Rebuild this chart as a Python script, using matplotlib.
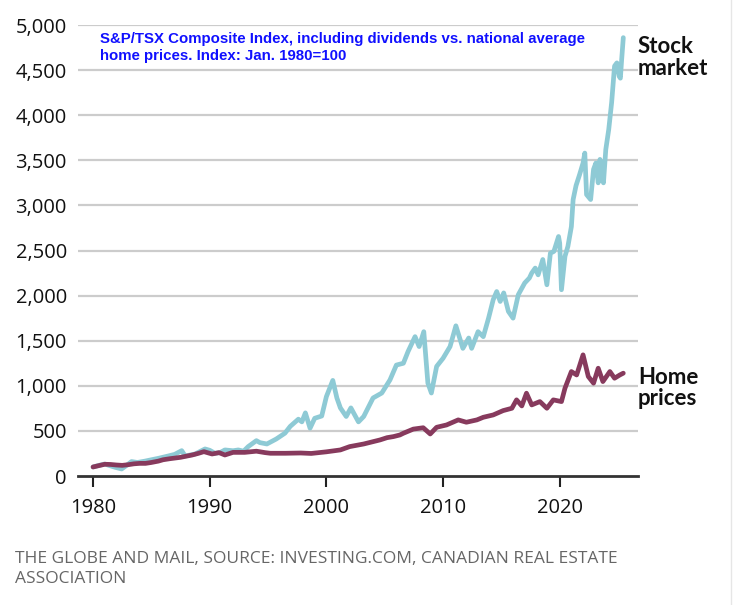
import matplotlib.pyplot as plt
from matplotlib.lines import Line2D

# values (index, Jan. 1980 = 100)
stock_years = [1980.0, 1980.5, 1981.0, 1981.5, 1981.9, 1982.45, 1982.9, 1983.3, 1983.8, 1984.45,
               1985.0, 1985.6, 1986.45, 1987.0, 1987.6, 1987.9, 1988.75, 1989.6, 1990.0, 1990.45,
               1990.9, 1991.3, 1992.0, 1992.45, 1992.9, 1993.3, 1994.0, 1994.3, 1994.9, 1995.7,
               1996.45, 1996.9, 1997.6, 1997.9, 1998.2, 1998.6, 1999.0, 1999.6, 2000.0, 2000.55,
               2000.9, 2001.2, 2001.7, 2002.1, 2002.75, 2003.2, 2004.0, 2004.75, 2005.45, 2006.0,
               2006.6, 2007.0, 2007.6, 2007.95, 2008.35, 2008.7, 2009.0, 2009.45, 2010.0, 2010.6,
               2011.1, 2011.7, 2012.2, 2012.45, 2013.0, 2013.45, 2013.9, 2014.3, 2014.6, 2014.9,
               2015.2, 2015.6, 2016.0, 2016.45, 2017.0, 2017.4, 2017.6, 2017.9, 2018.15, 2018.55,
               2018.9, 2019.2, 2019.5, 2019.9, 2020.0, 2020.15, 2020.45, 2020.7, 2021.0, 2021.15,
               2021.4, 2021.7, 2022.0, 2022.15, 2022.3, 2022.65, 2022.9, 2023.1, 2023.3, 2023.45,
               2023.6, 2023.75, 2023.95, 2024.2, 2024.45, 2024.7, 2024.9, 2025.1, 2025.2, 2025.3,
               2025.45]
stock_vals = [100, 118, 133, 112, 96, 78, 120, 160, 150, 165,
              180, 196, 222, 240, 281, 222, 244, 300, 285, 252,
              260, 289, 280, 289, 275, 326, 392, 370, 355, 410,
              475, 550, 630, 600, 700, 530, 640, 665, 880, 1060,
              865, 755, 660, 755, 600, 660, 865, 920, 1065, 1230,
              1250, 1380, 1545, 1435, 1600, 1030, 920, 1215, 1305, 1435,
              1665, 1415, 1530, 1415, 1600, 1545, 1750, 1955, 2045, 1935,
              2030, 1825, 1750, 2010, 2140, 2195, 2250, 2305, 2230, 2400,
              2120, 2470, 2490, 2655, 2580, 2065, 2435, 2545, 2765, 3065,
              3220, 3340, 3470, 3580, 3120, 3065, 3400, 3470, 3250, 3510,
              3320, 3250, 3620, 3840, 4140, 4545, 4580, 4430, 4410, 4600,
              4860]

home_years = [1980.0, 1980.5, 1981.0, 1981.5, 1982.0, 1982.5, 1983.0, 1983.5, 1984.0, 1984.5,
              1985.0, 1985.6, 1986.0, 1986.6, 1987.5, 1988.5, 1989.0, 1989.5, 1990.2, 1990.8,
              1991.3, 1992.0, 1993.0, 1994.0, 1994.75, 1995.2, 1996.5, 1997.8, 1998.7, 2000.0,
              2001.2, 2002.0, 2003.2, 2004.6, 2005.2, 2005.75, 2006.3, 2006.6, 2007.45, 2008.3,
              2008.9, 2009.45, 2010.3, 2011.3, 2012.0, 2012.9, 2013.45, 2014.3, 2015.15, 2015.9,
              2016.3, 2016.75, 2017.15, 2017.6, 2018.3, 2018.9, 2019.45, 2020.15, 2020.45, 2021.0,
              2021.45, 2022.0, 2022.45, 2022.9, 2023.3, 2023.7, 2024.3, 2024.7, 2025.15, 2025.45]
home_vals = [100, 115, 130, 128, 122, 118, 125, 135, 140, 140,
             150, 165, 180, 192, 207, 233, 250, 270, 244, 259,
             233, 262, 262, 275, 259, 252, 252, 255, 250, 268,
             289, 326, 355, 400, 425, 437, 455, 474, 520, 535,
             466, 540, 566, 622, 596, 622, 651, 677, 725, 751,
             844, 777, 918, 788, 825, 751, 844, 825, 973, 1158,
             1120, 1343, 1103, 1029, 1195, 1047, 1158, 1084, 1120, 1140]

x_ticks = [1980, 1990, 2000, 2010, 2020]
y_ticks = list(range(0, 5001, 500))

STOCK_COLOR = "#8ecad5"
HOME_COLOR = "#873a5d"

fig = plt.figure(figsize=(7.36, 6.05), dpi=100)
ax = fig.add_axes([78 / 736, 1 - 476 / 605, (638 - 78) / 736, (476 - 25) / 605])

ax.plot(stock_years, stock_vals, color=STOCK_COLOR, lw=3.4, solid_joinstyle="round",
        solid_capstyle="round", zorder=3)
ax.plot(home_years, home_vals, color=HOME_COLOR, lw=3.4, solid_joinstyle="round",
        solid_capstyle="round", zorder=4)

ax.set_xlim(1978.71, 2026.71)
ax.set_ylim(0, 5000)
ax.set_xticks(x_ticks)
ax.set_xticklabels([str(t) for t in x_ticks], fontsize=14.5, family="Open Sans", color="#111111")
ax.set_yticks(y_ticks)
ax.set_yticklabels([f"{v:,}" for v in y_ticks], fontsize=14.5, family="Open Sans", color="#111111")
ax.tick_params(axis="y", length=0, pad=8)
ax.tick_params(axis="x", length=8, width=1.5, color="#222222", pad=8)

for v in y_ticks[1:]:
    ax.axhline(v, color="#cccccc", lw=1.6, zorder=1)
for s in ["top", "right", "left"]:
    ax.spines[s].set_visible(False)
ax.spines["bottom"].set_color("#333333")
ax.spines["bottom"].set_linewidth(2)

ax.text(0.04, 0.985, "S&P/TSX Composite Index, including dividends vs. national average\n"
        "home prices. Index: Jan. 1980=100", transform=ax.transAxes, ha="left", va="top",
        fontsize=10.8, fontweight="bold", color="#1010ff", family="Liberation Sans", linespacing=1.3)

ax.text(1.0, 0.975, "Stock\nmarket", transform=ax.transAxes, ha="left", va="top",
        fontsize=16, fontweight="bold", family="Lato", color="#111111", linespacing=1.05)
ax.text(1.0, 0.195, "Home\nprices", transform=ax.transAxes, ha="left", va="center",
        fontsize=16, fontweight="bold", family="Lato", color="#111111", linespacing=1.05)

fig.text(15 / 736, 1 - 569 / 605, "THE GLOBE AND MAIL, SOURCE: INVESTING.COM, CANADIAN REAL ESTATE\nASSOCIATION",
         ha="left", va="center", fontsize=12.5, family="Open Sans", color="#666666", linespacing=1.35)

fig.add_artist(Line2D([731 / 736, 731 / 736], [0, 1], color="#e6e6e6", lw=1))

fig.savefig("out.png", dpi=100)
